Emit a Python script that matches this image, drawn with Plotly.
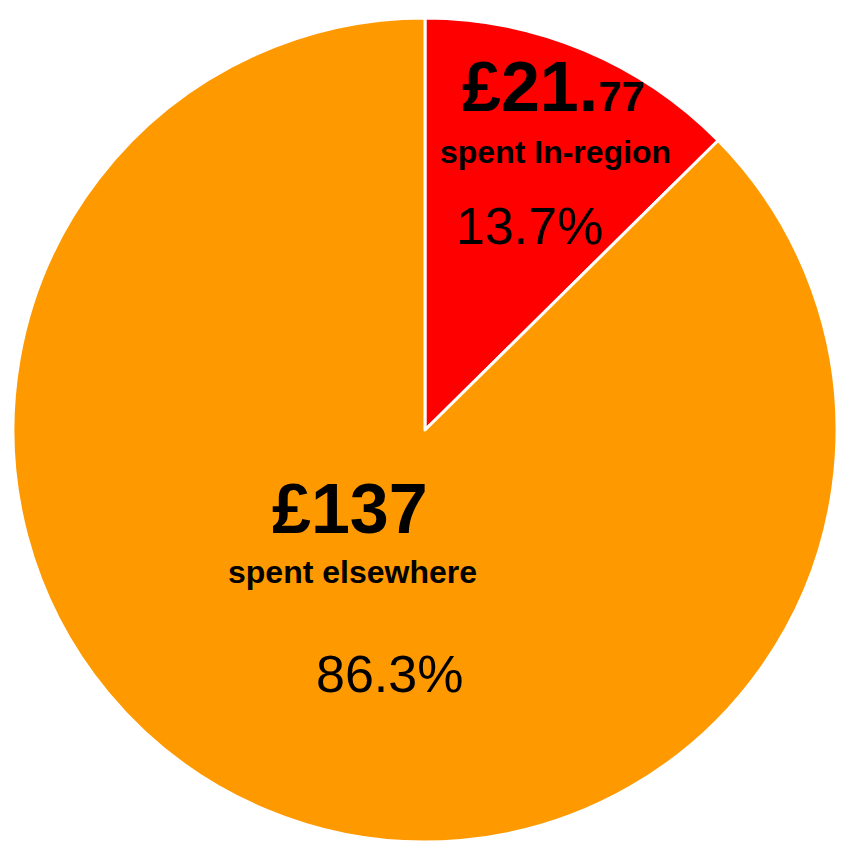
import plotly.graph_objects as go

# Datos del gráfico
etiquetas = ['spent In-region', 'spent elsewhere']
# Proporciones tal como están dibujadas las porciones (la roja mide ~45°)
proporciones = [12.6, 87.4]
# Textos impresos en el gráfico original
importes = ['£21.', '£137']
centimos = ['77', '']
porcentajes = ['13.7%', '86.3%']
colores = ['#FF0000', '#FF9900']

fig = go.Figure(go.Pie(labels=etiquetas,
                       values=proporciones,
                       sort=False,
                       direction='clockwise',
                       rotation=0,
                       textinfo='none',
                       hoverinfo='label+percent',
                       marker=dict(colors=colores, line=dict(color='white', width=3)),
                       domain=dict(x=[0.006, 1], y=[0, 0.988])))

fuente = 'Liberation Sans, Arial, sans-serif'

def texto(x, y, txt, size):
    fig.add_annotation(x=x, y=y, xref='paper', yref='paper', showarrow=False,
                       xanchor='center', yanchor='middle', text=txt,
                       font=dict(family=fuente, size=size, color='black'))

# Porción roja
texto(0.6586, 0.9050, '<b>' + importes[0] + '<span style="font-size:42px">' + centimos[0] + '</span></b>', 70)
texto(0.6600, 0.8273, '<b>' + etiquetas[0] + '</b>', 32)
texto(0.6291, 0.7386, porcentajes[0], 52)

# Porción naranja
texto(0.4125, 0.3993, '<b>' + importes[1] + '</b>', 70)
texto(0.4150, 0.3237, '<b>' + etiquetas[1] + '</b>', 32)
texto(0.4596, 0.2014, porcentajes[1], 52)

fig.update_layout(width=829, height=834,
                  margin=dict(l=0, r=0, t=0, b=0),
                  showlegend=False,
                  paper_bgcolor='white',
                  plot_bgcolor='white')

fig.write_html("out.html")
